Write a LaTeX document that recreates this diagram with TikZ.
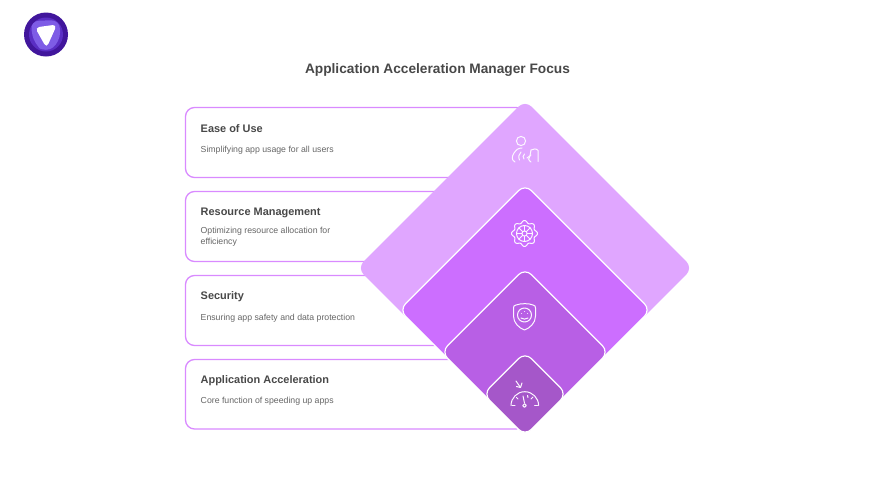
\documentclass[tikz,border=0pt]{standalone}
\usepackage{fontspec}
\usetikzlibrary{calc}
\setmainfont{Liberation Sans}
\definecolor{dOne}{HTML}{E0A6FF}
\definecolor{dTwo}{HTML}{CC6EFF}
\definecolor{dThree}{HTML}{B85FE5}
\definecolor{dFour}{HTML}{A557C9}
\definecolor{boxline}{HTML}{D98AFF}
\definecolor{headtxt}{HTML}{484848}
\definecolor{bodytxt}{HTML}{666666}
\definecolor{logoA}{HTML}{41169C}
\definecolor{logoB}{HTML}{5A2EC4}
\definecolor{logoC}{HTML}{7E5CE6}
\tikzset{
  infobox/.style={draw=boxline,line width=1.3pt,fill=white,rounded corners=9pt},
  heading/.style={anchor=west,inner sep=0pt,text=headtxt,font=\fontsize{10.95}{13}\selectfont\bfseries},
  detail/.style={anchor=west,inner sep=0pt,text=bodytxt,align=left,font=\fontsize{8.73}{11}\selectfont},
  titletxt/.style={inner sep=0pt,text=headtxt,font=\fontsize{13.7}{16}\selectfont\bfseries},
  tier/.style={draw=white,line width=1.2pt,rounded corners=9pt},
  glyph/.style={draw=white!90!dOne,line width=1pt,line cap=round,line join=round,fill=none}
}
\begin{document}
\begin{tikzpicture}[x=1pt,y=-1pt]
\useasboundingbox (0,0) rectangle (876,493);
\fill[white] (0,0) rectangle (876,493);
% logo
\fill[logoA] (46,34.5) circle (22);
\fill[logoB] (46,34.5) circle (17);
\fill[logoC,rounded corners=9pt] (30,21) -- (60,20) -- (60,42) -- (46,53) -- (34,44) -- cycle;
\fill[white,rounded corners=4.5pt] (35,27.5) -- (57,24.5) -- (46.5,48) -- cycle;
% title
\node[titletxt] (title) at (437.5,69.7) {Application Acceleration Manager Focus};
% boxes
\draw[infobox] (185.5,107.5) rectangle (525,177.5);
\draw[infobox] (185.5,191.5) rectangle (525,261.5);
\draw[infobox] (185.5,275.5) rectangle (525,345.5);
\draw[infobox] (185.5,359.5) rectangle (525,429);
\node[heading] (h1) at (200.5,128.7) {Ease of Use};
\node[detail] (d1) at (200.5,150) {Simplifying app usage for all users};
\node[heading] (h2) at (200.5,212.7) {Resource Management};
\node[detail] (d2) at (200.5,237) {Optimizing resource allocation for\\efficiency};
\node[heading] (h3) at (200.5,296.7) {Security};
\node[detail] (d3) at (200.5,318) {Ensuring app safety and data protection};
\node[heading] (h4) at (200.5,380.7) {Application Acceleration};
\node[detail] (d4) at (200.5,401.5) {Core function of speeding up apps};
% tiers
\fill[dOne,rounded corners=9pt] (525,100.2) -- (692.8,268) -- (525,435.8) -- (357.2,268) -- cycle;
\filldraw[tier,fill=dTwo] (525,184.2) -- (650.8,310) -- (525,435.8) -- (399.2,310) -- cycle;
\filldraw[tier,fill=dThree] (525,268.2) -- (608.8,352) -- (525,435.8) -- (441.2,352) -- cycle;
\filldraw[tier,fill=dFour] (525,352.2) -- (566.8,394) -- (525,435.8) -- (483.2,394) -- cycle;
% person icon
\draw[glyph] (521,141) circle (4.6);
\draw[glyph] (515,162) .. controls (511,160) and (512,156) .. (514,153) .. controls (516,150) and (518,148) .. (522,148);
\draw[glyph] (519.5,160) .. controls (518,157) and (519,154) .. (521,152);
\draw[glyph] (524,159) .. controls (522.5,157.5) and (523,155.5) .. (524.5,154);
\draw[glyph] (531,162) .. controls (528,160) and (528,158) .. (530,156) -- (531,150) .. controls (533,148.5) and (537,148.5) .. (538,150.5) -- (538,161.5);
\draw[glyph] (527,158) -- (531,155);
% gear icon
\draw[glyph] plot[domain=0:360,samples=97,smooth] ({524.5+(11.8+1.2*cos(8*\x))*cos(\x)},{233.5+(11.8+1.2*cos(8*\x))*sin(\x)}) -- cycle;
\draw[glyph] (524.5,233.5) circle (8);
\draw[glyph] (524.5,233.5) circle (2.6);
\foreach \a in {0,45,...,315}{
  \draw[glyph] ($(524.5,233.5)+(\a:2.6)$) -- ($(524.5,233.5)+(\a:8)$);
}
% shield icon
\draw[glyph] (513.5,308) .. controls (513.5,306) and (514,305.5) .. (516,305) .. controls (521,303.2) and (529,303.2) .. (533,305) .. controls (535,305.5) and (535.5,306) .. (535.5,308) -- (535.5,316) .. controls (535.5,323) and (530,328) .. (524.5,330) .. controls (519,328) and (513.5,323) .. (513.5,316) -- cycle;
\draw[glyph] (524.5,315) circle (7);
\draw[glyph] (521,318) .. controls (523,319.5) and (526,319.5) .. (528,318);
\draw[glyph] (521.5,313) -- (521.6,313);
\draw[glyph] (527.5,313) -- (527.6,313);
\draw[glyph] (524.5,311) -- (524.6,311);
% gauge icon
\draw[glyph] (511,405.5) arc (180:360:13.8);
\draw[glyph] (524.5,403) -- (523,396);
\draw[glyph] (524.5,405.5) circle (1.8);
\draw[glyph] (512,405.5) -- (515,405.5);
\draw[glyph] (534.5,405.5) -- (537.5,405.5);
\draw[glyph] (518,399) -- (516.5,397.5);
\draw[glyph] (531,399) -- (533,397);
\draw[glyph] (527.5,395.5) -- (528,397.5);
\draw[glyph] (516,381) -- (520.5,387.5);
\draw[glyph] (516.5,386.5) -- (520.5,387.5) -- (522,383);
\end{tikzpicture}
\end{document}
